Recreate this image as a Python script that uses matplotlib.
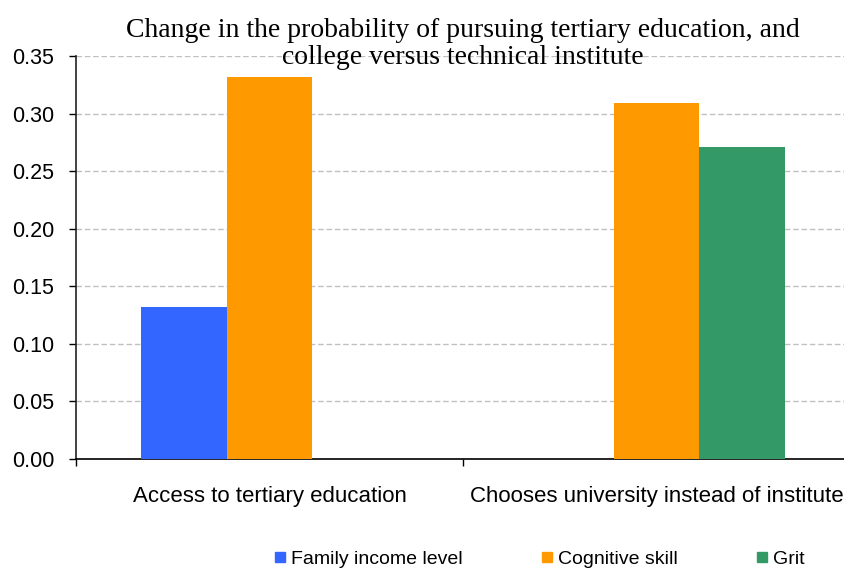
import matplotlib.pyplot as plt
from matplotlib.lines import Line2D
import numpy as np

# data
categories = ['Access to tertiary education', 'Chooses university instead of institute']
series = ['Family income level', 'Cognitive skill', 'Grit']
familyIncome = [0.132, 0.0]
cognitiveSkill = [0.332, 0.309]
grit = [0.0, 0.271]
colours = ['#3366FF', '#FF9900', '#339966']
yticks = [0.00, 0.05, 0.10, 0.15, 0.20, 0.25, 0.30, 0.35]
title = 'Change in the probability of pursuing tertiary education, and\ncollege versus technical institute'

W, H = 844, 568
fig = plt.figure(figsize=(W / 100, H / 100), dpi=100)
ax = fig.add_axes([76 / W, 1 - 459 / H, 774 / W, 403 / H])

x = np.arange(len(categories))
w = 0.222
for i, (vals, c) in enumerate(zip([familyIncome, cognitiveSkill, grit], colours)):
    ax.bar(x + (i - 1) * w, vals, w, color=c, zorder=3)

ax.set_xlim(-0.5, 1.5)
ax.set_ylim(0, 0.35)
ax.set_yticks(yticks)
ax.set_yticklabels([f'{v:.2f}' for v in yticks], fontsize=15.5, family='Liberation Sans')
ax.set_xticks(x)
ax.set_xticklabels(categories, fontsize=16, family='Liberation Sans')
ax.set_xticks([-0.5, 0.5, 1.5], minor=True)
ax.tick_params(axis='x', which='major', length=0, pad=19.5)
ax.tick_params(axis='x', which='minor', length=5, width=1, direction='out')
ax.tick_params(axis='y', length=5, width=1, direction='out', pad=10.5)

ax.grid(axis='y', color='#c0c0c0', linestyle=(0, (4, 2)), linewidth=1, zorder=0)
for s in ['top', 'right']:
    ax.spines[s].set_visible(False)
ax.spines['left'].set_linewidth(1.2)
ax.spines['bottom'].set_linewidth(1.2)
ax.spines['left'].set_color('#222222')
ax.spines['bottom'].set_color('black')

fig.text(463 / W, 1 - 44 / H, title, ha='center', va='center', fontsize=20,
         family='Liberation Serif', linespacing=1.15)

handles = [Line2D([], [], marker='s', linestyle='none', markersize=7,
                  markerfacecolor=c, markeredgecolor=c) for c in colours]
fig.legend(handles, series, loc='center', bbox_to_anchor=(540 / W, 1 - 559 / H),
           ncol=3, frameon=False, prop={'family': 'Liberation Sans', 'size': 14},
           handlelength=0.5, handletextpad=0.3, columnspacing=4.1)

fig.savefig('out.png', dpi=100)
